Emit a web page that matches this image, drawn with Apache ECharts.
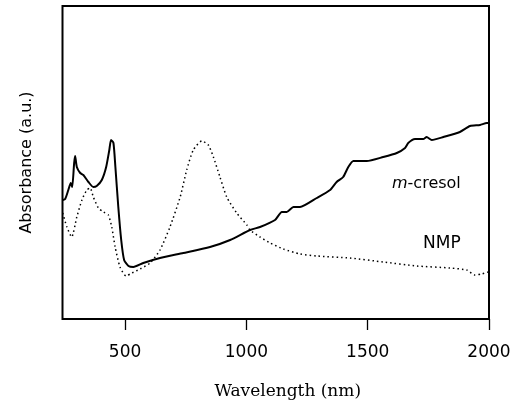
<!DOCTYPE html>
<html><head><meta charset="utf-8">
<script src="https://cdn.jsdelivr.net/npm/echarts@6/dist/echarts.min.js"></script>
<style>html,body{margin:0;padding:0;background:#fff}#c{width:528px;height:405px}</style>
</head><body><div id="c"></div>
<script>
// Wavelength (nm) and absorbance (a.u.)
const cresolWl = [243,253,266,276,282,290,294,301,315,328,349,369,383,404,422,435,442,452,460,472,484,496,514,534,575,644,740,850,933,1015,1056,1118,1146,1166,1194,1221,1290,1345,1372,1399,1420,1441,1496,1564,1620,1654,1667,1695,1729,1743,1764,1812,1880,1922,1963,1991,2000];
const cresolAbs = [1.19,1.20,1.29,1.36,1.32,1.56,1.63,1.52,1.46,1.44,1.37,1.32,1.33,1.39,1.52,1.69,1.79,1.76,1.52,1.12,0.79,0.59,0.53,0.52,0.56,0.61,0.66,0.72,0.79,0.89,0.92,0.99,1.07,1.07,1.12,1.12,1.21,1.29,1.37,1.42,1.52,1.58,1.58,1.62,1.66,1.71,1.76,1.80,1.80,1.82,1.79,1.82,1.87,1.93,1.94,1.96,1.96];
const nmpWl = [243,260,280,301,322,342,356,369,390,411,431,445,459,479,504,528,562,603,644,685,727,754,781,816,843,864,891,919,960,1002,1015,1056,1098,1152,1221,1290,1427,1564,1702,1839,1908,1942,1970,1997];
const nmpAbs = [1.06,0.92,0.82,1.02,1.19,1.29,1.31,1.22,1.11,1.07,1.04,0.92,0.72,0.52,0.43,0.46,0.50,0.56,0.69,0.92,1.22,1.49,1.69,1.78,1.74,1.62,1.42,1.22,1.06,0.94,0.89,0.82,0.76,0.70,0.65,0.63,0.61,0.57,0.53,0.51,0.49,0.44,0.45,0.47];
const xTicks = [500,1000,1500,2000];
const xTitle = 'Wavelength (nm)';
const yTitle = 'Absorbance (a.u.)';

const zip = (a,b) => a.map((v,i)=>[v,b[i]]);
const chart = echarts.init(document.getElementById('c'), null, {renderer:'canvas'});
chart.setOption({
  animation:false,
  backgroundColor:'#fff',
  grid:{left:62.5,right:39,top:6,bottom:86,show:true,borderColor:'#000',borderWidth:2,backgroundColor:'transparent'},
  xAxis:{type:'value',min:242,max:2000,
    axisLine:{show:false},
    splitLine:{show:false},
    axisTick:{show:true,length:11,lineStyle:{color:'#000',width:1.3},customValues:xTicks},
    axisLabel:{customValues:xTicks,margin:25,color:'#000',fontFamily:'DejaVu Sans',fontSize:17,
      formatter:v=>String(v)},
    name:xTitle,nameLocation:'middle',nameGap:64,
    nameTextStyle:{fontFamily:'DejaVu Serif',fontSize:17,color:'#000',padding:[0,0,0,24]}
  },
  yAxis:{type:'value',min:0,max:3.13,
    axisLine:{show:false},axisTick:{show:false},axisLabel:{show:false},splitLine:{show:false},
    name:yTitle,nameLocation:'middle',nameGap:28,
    nameTextStyle:{fontFamily:'DejaVu Sans',fontSize:16,color:'#000'}
  },
  series:[
    {name:'m-cresol',type:'line',data:zip(cresolWl,cresolAbs),showSymbol:false,smooth:0.2,
     lineStyle:{color:'#000',width:2}},
    {name:'NMP',type:'line',data:zip(nmpWl,nmpAbs),showSymbol:false,smooth:0.2,
     lineStyle:{color:'#000',width:1.5,type:[1.5,3]}}
  ],
  graphic:[
    {type:'text',left:392,top:176,style:{text:'{i|m}-cresol',fill:'#000',font:'16px "DejaVu Sans"',
      rich:{i:{fontStyle:'italic',fontFamily:'DejaVu Sans',fontSize:16,fill:'#000'}}}},
    {type:'text',left:423,top:235,style:{text:'NMP',fill:'#000',font:'17px "DejaVu Sans"'}}
  ]
});
</script></body></html>
